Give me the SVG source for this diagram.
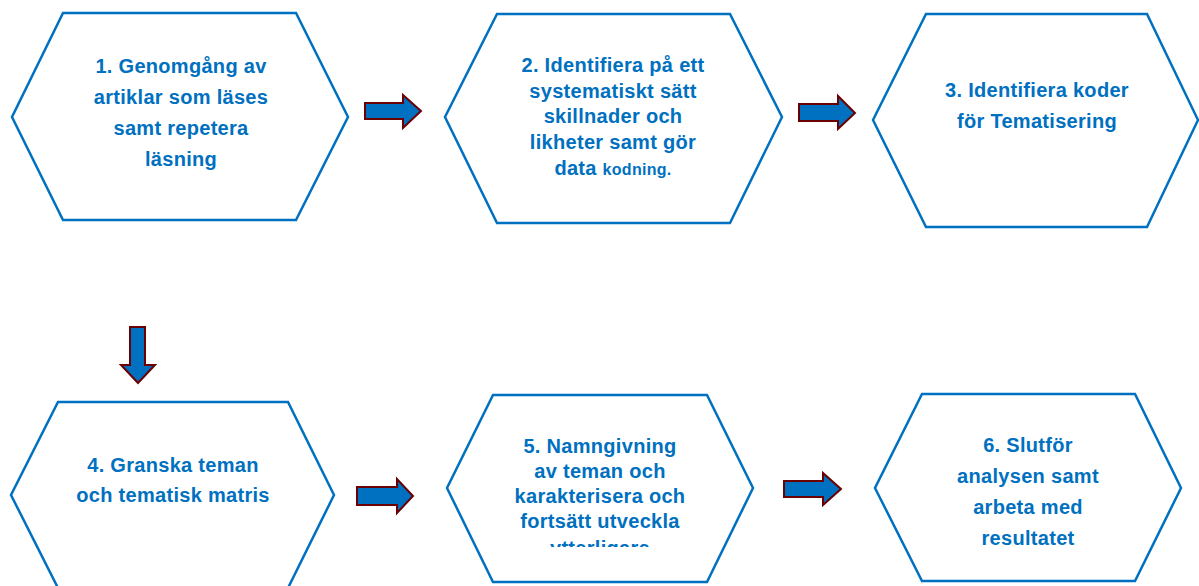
<svg xmlns="http://www.w3.org/2000/svg" width="1199" height="586" viewBox="0 0 1199 586">
<style>
.hex{fill:#fff;stroke:#0070C0;stroke-width:2.5;stroke-linejoin:miter}
.t{font-family:"Liberation Sans",Arial,sans-serif;font-weight:bold;font-size:20px;fill:#0070C0;text-anchor:middle;letter-spacing:0.3px}
.sm{font-size:16px}
.arr{fill:#0070C0;stroke:#6B0000;stroke-width:2;stroke-linejoin:miter}
</style>
<defs>
<clipPath id="clip5"><rect x="440" y="390" width="320" height="157"/></clipPath>
</defs>
<rect width="1199" height="586" fill="#fff"/>
<g id="node1">
<polygon class="hex" points="63,13 296,13 348,117 296,220 63,220 12,117"/>
<text class="t" x="181" y="73">1. Genomgång av</text>
<text class="t" x="181" y="104">artiklar som läses</text>
<text class="t" x="181" y="135">samt repetera</text>
<text class="t" x="181" y="166">läsning</text>
</g>
<g id="node2">
<polygon class="hex" points="497,14 730,14 782,117 730,223 497,223 445,117"/>
<text class="t" x="613" y="72">2. Identifiera på ett</text>
<text class="t" x="613" y="98">systematiskt sätt</text>
<text class="t" x="613" y="123">skillnader och</text>
<text class="t" x="613" y="149">likheter samt gör</text>
<text class="t" x="613" y="175">data <tspan class="sm">kodning.</tspan></text>
</g>
<g id="node3">
<polygon class="hex" points="926,14 1147,14 1198,120 1147,227 926,227 873,120"/>
<text class="t" x="1037" y="97">3. Identifiera koder</text>
<text class="t" x="1037" y="128">för Tematisering</text>
</g>
<g id="node4">
<polygon class="hex" points="58,402 288,402 334,495 288,588 58,588 11,495"/>
<text class="t" x="173" y="472">4. Granska teman</text>
<text class="t" x="173" y="502">och tematisk matris</text>
</g>
<g id="node5">
<polygon class="hex" points="493,395 707,395 753,488 707,582 493,582 447,488"/>
<g clip-path="url(#clip5)">
<text class="t" x="600" y="453">5. Namngivning</text>
<text class="t" x="600" y="478">av teman och</text>
<text class="t" x="600" y="503">karakterisera och</text>
<text class="t" x="600" y="528">fortsätt utveckla</text>
<text class="t" x="600" y="555">ytterligare</text>
</g>
</g>
<g id="node6">
<polygon class="hex" points="922,394 1135,394 1181,488 1135,581 922,581 875,488"/>
<text class="t" x="1028" y="452">6. Slutför</text>
<text class="t" x="1028" y="483">analysen samt</text>
<text class="t" x="1028" y="514">arbeta med</text>
<text class="t" x="1028" y="545">resultatet</text>
</g>
<g id="connectors">
<polygon class="arr" points="365,103 403,103 403,95 421,111 403,128 403,119 365,119"/>
<polygon class="arr" points="799,104 838,104 838,96 855,113 838,129 838,121 799,121"/>
<polygon class="arr" points="130,327 145,327 145,365 155,365 138,383 121,365 130,365"/>
<polygon class="arr" points="357,487 397,487 397,479 413,496 397,513 397,505 357,505"/>
<polygon class="arr" points="784,481 823,481 823,473 841,489 823,505 823,497 784,497"/>
</g>
</svg>
